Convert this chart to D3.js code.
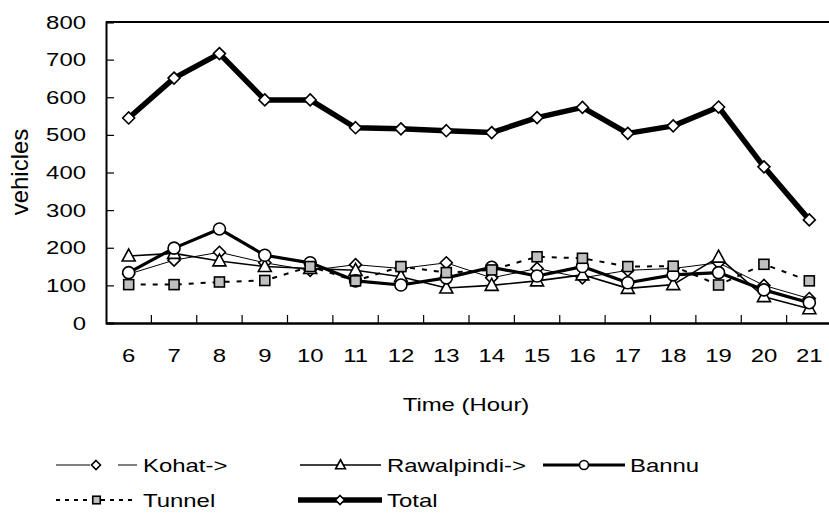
<!DOCTYPE html>
<html>
<head>
<meta charset="utf-8" />
<title>vehicles by hour</title>
<script src="https://d3js.org/d3.v7.min.js"></script>
<style>
  body { margin: 0; background: #fff; }
  text { font-family: "Liberation Sans", Arial, sans-serif; font-size: 18px; fill: #000; }
</style>
</head>
<body>
<svg id="chart" width="829" height="522"></svg>
<script>
// data
var hours = [6, 7, 8, 9, 10, 11, 12, 13, 14, 15, 16, 17, 18, 19, 20, 21];
var kohat      = [130, 167, 188, 160, 140, 155, 145, 160, 120, 145, 120, 140, 145, 160, 100, 65];
var rawalpindi = [178, 185, 165, 150, 145, 140, 123, 93, 100, 112, 128, 92, 102, 175, 70, 38];
var bannu      = [134, 199, 250, 180, 160, 112, 101, 120, 148, 125, 150, 107, 128, 134, 88, 54];
var tunnel     = [102, 102, 109, 113, 150, 112, 150, 134, 141, 176, 172, 150, 151, 101, 156, 112];
var total      = [545, 651, 716, 593, 593, 519, 516, 511, 506, 546, 573, 504, 524, 574, 415, 274];
var yTicks = [0, 100, 200, 300, 400, 500, 600, 700, 800];

// the original is stretched sideways, so text is too
var SX = 1.33;

var svg = d3.select("#chart");

var x = d3.scaleBand().domain(hours).range([106, 832]).padding(0);
var y = d3.scaleLinear().domain([0, 800]).range([323, 22]);
function cx(h) { return x(h) + x.bandwidth() / 2; }

function sText(sel, px, py, str, anchor) {
    return sel.append("text")
        .attr("transform", "translate(" + px + "," + py + ") scale(" + SX + ",1)")
        .attr("text-anchor", anchor)
        .text(str);
}

// frame top line
svg.append("line")
    .attr("x1", 106).attr("x2", 832).attr("y1", y(800)).attr("y2", y(800))
    .attr("stroke", "#000").attr("stroke-width", 2);

// y axis, ticks pointing in
var yAxis = d3.axisLeft(y).tickValues(yTicks).tickSize(-8).tickFormat("");
svg.append("g").attr("transform", "translate(106,0)").call(yAxis)
    .call(function (g) {
        g.select(".domain").attr("stroke-width", 2);
        g.selectAll(".tick line").attr("stroke-width", 1.2);
    });

// x axis, ticks between categories
var xAxis = d3.axisBottom(x).tickSize(0).tickFormat("");
var gx = svg.append("g").attr("transform", "translate(0,323)").call(xAxis);
gx.select(".domain").attr("stroke-width", 2.5);
gx.selectAll(".bound").data(hours.slice(1)).enter().append("line")
    .attr("x1", function (d) { return x(d); }).attr("x2", function (d) { return x(d); })
    .attr("y1", 0).attr("y2", -8)
    .attr("stroke", "#000").attr("stroke-width", 1.2);

// tick labels
yTicks.forEach(function (v) { sText(svg, 86, y(v) + 6.5, v, "end"); });
hours.forEach(function (h) { sText(svg, cx(h), 362, h, "middle"); });

// axis titles
sText(svg, 466, 411, "Time (Hour)", "middle");
svg.append("text")
    .attr("transform", "translate(28,172) rotate(-90)")
    .attr("text-anchor", "middle")
    .style("font-size", "24px")
    .text("vehicles");

// markers (k scales the size, legend uses smaller ones)
function drawMarker(g, kind, px, py, k) {
    k = k || 1;
    var t = "translate(" + px + "," + py + ") scale(" + k + ")";
    if (kind === "diamond") {
        g.append("path").attr("d", "M0,-6L6,0L0,6L-6,0Z").attr("transform", t)
            .attr("fill", "#fff").attr("stroke", "#000").attr("stroke-width", 1.6 / k);
    } else if (kind === "triangle") {
        g.append("path").attr("d", "M0,-7L6.5,5L-6.5,5Z").attr("transform", t)
            .attr("fill", "#fff").attr("stroke", "#000").attr("stroke-width", 1.6 / k);
    } else if (kind === "circle") {
        g.append("circle").attr("r", 6).attr("transform", t)
            .attr("fill", "#fff").attr("stroke", "#000").attr("stroke-width", 1.6 / k);
    } else if (kind === "square") {
        g.append("rect").attr("x", -5).attr("y", -5).attr("width", 10).attr("height", 10).attr("transform", t)
            .attr("fill", "#c0c0c0").attr("stroke", "#000").attr("stroke-width", 1.6 / k);
    }
}

var seriesList = [
    { name: "Kohat->", values: kohat, width: 1, dash: null, marker: "diamond" },
    { name: "Rawalpindi->", values: rawalpindi, width: 1.6, dash: null, marker: "triangle" },
    { name: "Bannu", values: bannu, width: 3.2, dash: null, marker: "circle" },
    { name: "Tunnel", values: tunnel, width: 2, dash: "5,7", marker: "square" },
    { name: "Total", values: total, width: 5.5, dash: null, marker: "diamond" }
];

var line = d3.line()
    .x(function (d, i) { return cx(hours[i]); })
    .y(function (d) { return y(d); });

seriesList.forEach(function (s) {
    var g = svg.append("g");
    g.append("path").datum(s.values).attr("d", line)
        .attr("fill", "none").attr("stroke", "#000")
        .attr("stroke-width", s.width)
        .attr("stroke-linejoin", "round")
        .attr("stroke-dasharray", s.dash);
    s.values.forEach(function (v, i) { drawMarker(g, s.marker, cx(hours[i]), y(v)); });
});

// legend
var leg = svg.append("g");
var LK = 0.75;
function legendEntry(s, x0, x1, ly, tx) {
    leg.append("line").attr("x1", x0).attr("x2", x1).attr("y1", ly).attr("y2", ly)
        .attr("stroke", "#000").attr("stroke-width", s.width)
        .attr("stroke-dasharray", s.dash ? "4,5" : null);
    drawMarker(leg, s.marker, (x0 + x1) / 2, ly, LK);
    sText(leg, tx, ly + 6.5, s.name, "start");
}
// Kohat entry has a broken line in the original
leg.append("line").attr("x1", 56).attr("x2", 90).attr("y1", 465).attr("y2", 465).attr("stroke", "#000").attr("stroke-width", 1);
leg.append("line").attr("x1", 118).attr("x2", 137).attr("y1", 465).attr("y2", 465).attr("stroke", "#000").attr("stroke-width", 1);
drawMarker(leg, "diamond", 96, 465, LK);
sText(leg, 143, 471.5, "Kohat->", "start");

legendEntry(seriesList[1], 300, 381, 465, 387);
legendEntry(seriesList[2], 543, 625, 465, 630);
legendEntry(seriesList[3], 56, 137, 500, 143);
legendEntry(seriesList[4], 298, 382, 500, 387);
</script>
</body>
</html>
